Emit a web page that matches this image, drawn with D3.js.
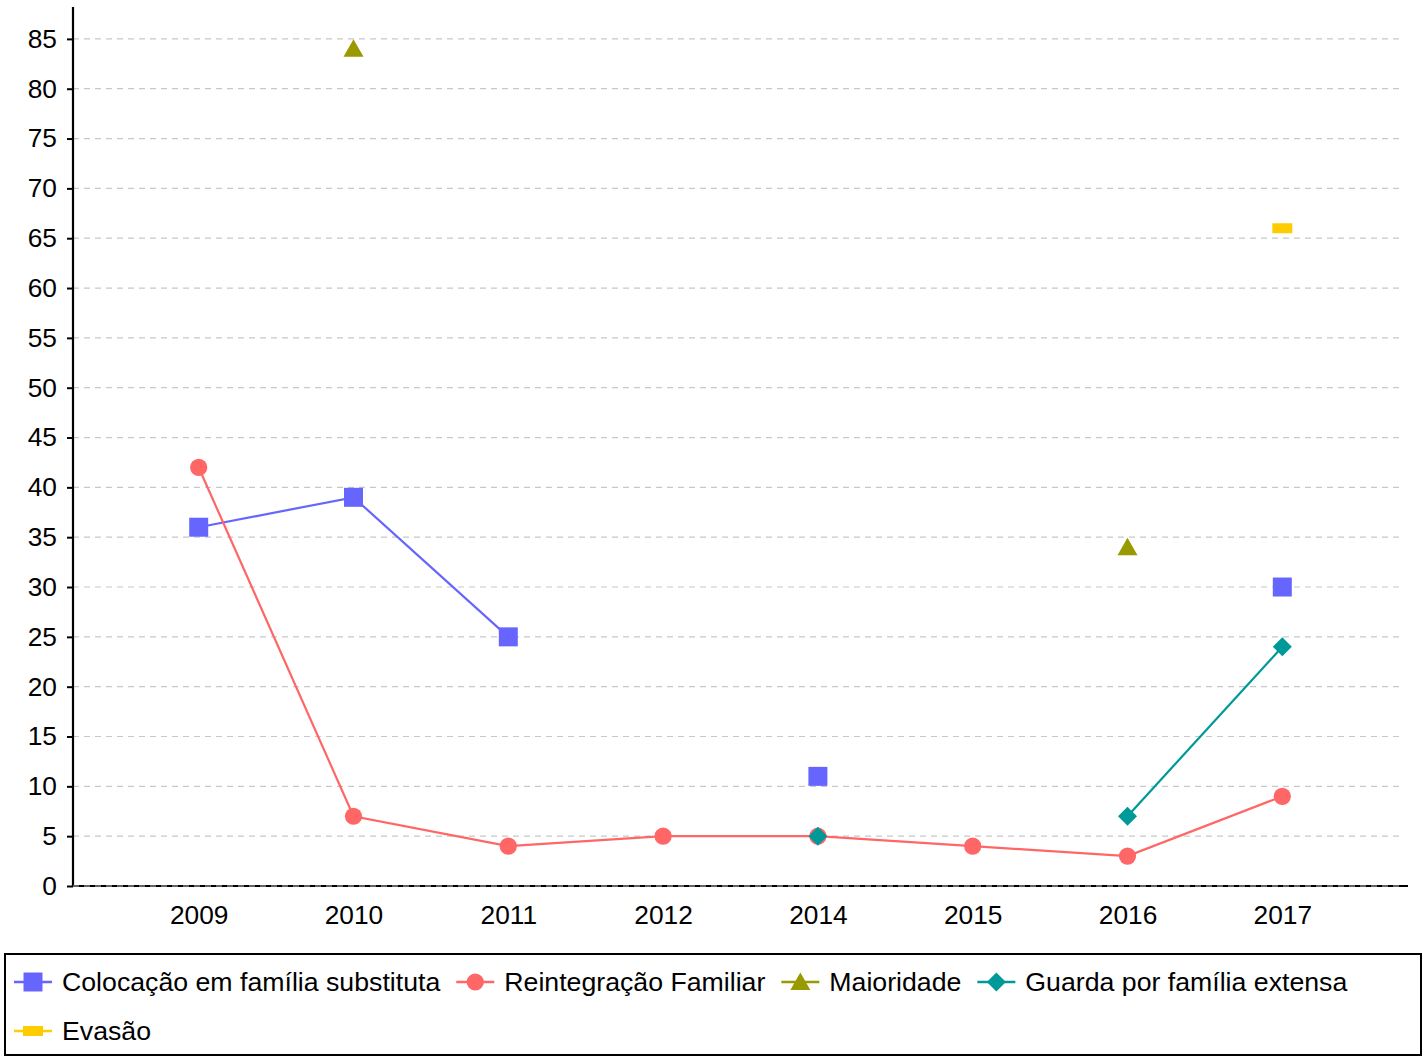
<!DOCTYPE html>
<html><head><meta charset="utf-8">
<script src="https://cdn.jsdelivr.net/npm/d3@7"></script>
<style>body{margin:0;background:#fff}svg{display:block}text{font-family:"Liberation Sans",Arial,sans-serif}</style>
</head><body>
<svg id="c" width="1425" height="1056"></svg>
<script>
const years = ["2009","2010","2011","2012","2014","2015","2016","2017"];
const colocacao = [36,39,25,null,11,null,null,30];
const reintegracao = [42,7,4,5,5,4,3,9];
const maioridade = [null,84,null,null,null,null,34,null];
const guarda = [null,null,null,null,5,null,7,24];
const evasao = [null,null,null,null,null,null,null,66];
const yTicks = [0,5,10,15,20,25,30,35,40,45,50,55,60,65,70,75,80,85];
const seriesNames = ["Colocação em família substituta","Reintegração Familiar","Maioridade","Guarda por família extensa","Evasão"];
const seriesColors = ["#6666ff","#ff6666","#999900","#009999","#ffcc00"];
const seriesSymbols = ["square","circle","triangle","diamond","dash"];

const series = [colocacao, reintegracao, maioridade, guarda, evasao].map((v,i)=>({
  name: seriesNames[i], color: seriesColors[i], symbol: seriesSymbols[i], values: v
}));

const svg = d3.select("#c");
const x = d3.scalePoint().domain(years).range([73,1408]).padding(0.812);
const y = d3.scaleLinear().domain([0,88.2]).range([886,7]);

// gridlines
svg.append("g").selectAll("line").data(yTicks).join("line")
  .attr("x1",73).attr("x2",1402).attr("y1",d=>y(d)).attr("y2",d=>y(d))
  .attr("stroke","#c8c8c8").attr("stroke-width",1.2).attr("stroke-dasharray","6,5");

// y axis
const ya = svg.append("g").attr("transform","translate(73,0)")
  .call(d3.axisLeft(y).tickValues(yTicks).tickSize(6).tickPadding(10));
ya.select(".domain").attr("d","M0,7V886").attr("stroke","#000").attr("stroke-width",2.2);
ya.selectAll(".tick line").attr("stroke","#000").attr("stroke-width",2);
ya.selectAll(".tick text").attr("font-size",26.3).attr("fill","#000").attr("font-family","Liberation Sans, Arial, sans-serif");

// x axis
const xa = svg.append("g").attr("transform","translate(0,886)")
  .call(d3.axisBottom(x).tickSize(0).tickPadding(19));
xa.select(".domain").attr("d","M73,0H1408").attr("stroke","#000").attr("stroke-width",2.2);
xa.selectAll(".tick text").attr("font-size",26.3).attr("fill","#000").attr("font-family","Liberation Sans, Arial, sans-serif");
// dashed grid over the x axis at 0
svg.append("line").attr("x1",73).attr("x2",1402).attr("y1",y(0)).attr("y2",y(0))
  .attr("stroke","#c8c8c8").attr("stroke-width",1).attr("stroke-dasharray","6,5");

function symbolPath(sym){
  switch(sym){
    case "square": return "M-9.5,-9.5H9.5V9.5H-9.5Z";
    case "circle": return d3.arc()({innerRadius:0,outerRadius:8.6,startAngle:0,endAngle:2*Math.PI});
    case "triangle": return "M0,-9.5L10,8L-10,8Z";
    case "diamond": return "M0,-9.5L9.5,0L0,9.5L-9.5,0Z";
    case "dash": return "M-10,-5H10V5H-10Z";
  }
}

const line = d3.line().defined(d=>d.v!=null).x(d=>x(d.year)).y(d=>y(d.v));
series.forEach(s=>{
  const pts = s.values.map((v,i)=>({year:years[i],v}));
  const g = svg.append("g");
  g.append("path").attr("d",line(pts)).attr("fill","none").attr("stroke",s.color).attr("stroke-width",2.2);
  g.selectAll("path.m").data(pts.filter(p=>p.v!=null)).join("path").attr("class","m")
    .attr("d",symbolPath(s.symbol))
    .attr("transform",d=>`translate(${x(d.year)},${y(d.v)})`)
    .attr("fill",s.color);
});

// legend
svg.append("rect").attr("x",5).attr("y",954).attr("width",1416).attr("height",101)
  .attr("fill","#fff").attr("stroke","#000").attr("stroke-width",2);
let lx = 14, ly = 982;
series.forEach((s,i)=>{
  const g = svg.append("g");
  const t = g.append("text").attr("font-size",26.7).attr("fill","#000").attr("y",9).text(s.name);
  const w = t.node().getComputedTextLength();
  if (lx + 48 + w > 1410) { lx = 14; ly += 49; }
  g.attr("transform",`translate(${lx},${ly})`);
  g.append("line").attr("x1",0).attr("x2",38).attr("stroke",s.color).attr("stroke-width",2.5);
  g.append("path").attr("d",symbolPath(s.symbol)).attr("transform","translate(19,0)").attr("fill",s.color);
  t.attr("x",48);
  lx += 48 + w + 16;
});
</script>
</body></html>
